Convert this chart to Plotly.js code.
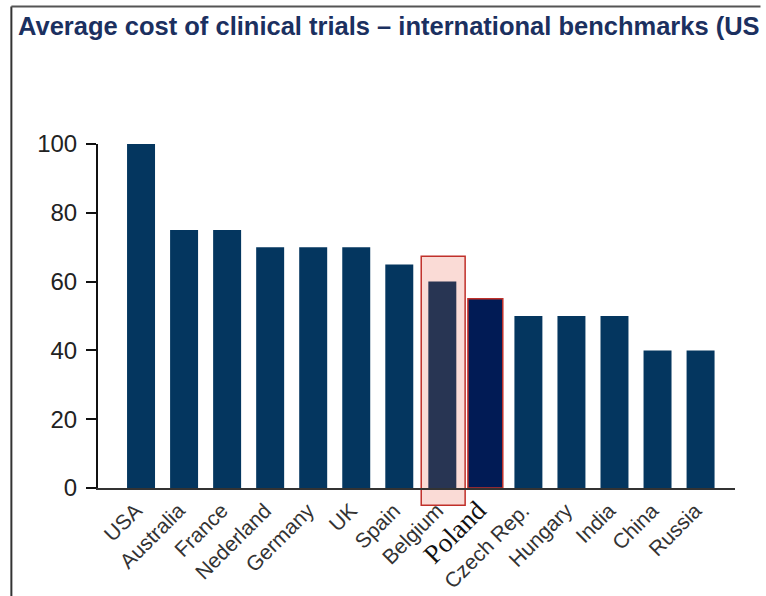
<!DOCTYPE html>
<html>
<head>
<meta charset="utf-8">
<script src="https://cdn.plot.ly/plotly-3.0.1.min.js"></script>
<style>html,body{margin:0;padding:0;background:#fff;}#chart{width:766px;height:596px;}</style>
</head>
<body>
<div id="chart"></div>
<script>
const countries = ["USA","Australia","France","Nederland","Germany","UK","Spain","Belgium","Poland","Czech Rep.","Hungary","India","China","Russia"];
const costIndex = [100,75,75,70,70,70,65,60,55,50,50,50,40,40];
const yTicks = [0,20,40,60,80,100];
const highlighted = "Poland";
const boxed = "Belgium";

const idx = countries.map((c,i)=>i);
const labelPos = idx.map(i => i - 0.12);
const colors = countries.map(c => c===highlighted ? "#011b55" : (c===boxed ? "#283553" : "#04365f"));
const widths = countries.map(c => c===highlighted ? 0.81 : 0.65);
const lineColors = countries.map(c => c===highlighted ? "#c0302a" : "rgba(0,0,0,0)");
const lineWidths = countries.map(c => c===highlighted ? 1.5 : 0);
const tickText = countries.map(c => c===highlighted
  ? '<span style="font-family:\'Liberation Serif\',\'Times New Roman\',serif;font-size:27px;fill:#111;">'+c+'</span>'
  : c);

const bi = countries.indexOf(boxed);
const bv = costIndex[bi];

const trace = {
  type: "bar",
  x: idx,
  y: costIndex,
  width: widths,
  marker: {color: colors, line: {color: lineColors, width: lineWidths}},
  hoverinfo: "x+y"
};

const layout = {
  width: 766, height: 596,
  margin: {l: 98, r: 31, t: 144, b: 108},
  paper_bgcolor: "#fff", plot_bgcolor: "#fff",
  showlegend: false,
  font: {family: "'Liberation Sans', Arial, sans-serif", color: "#333"},
  xaxis: {
    range: [-1, 13.8],
    tickmode: "array", tickvals: labelPos, ticktext: tickText,
    tickangle: -45, ticks: "", showgrid: false, zeroline: false,
    showline: true, linecolor: "#333", linewidth: 2,
    tickfont: {size: 21, color: "#333"},
    automargin: false,
    fixedrange: true
  },
  yaxis: {
    range: [0, 100], tickvals: yTicks,
    ticks: "outside", ticklen: 10, tickwidth: 2, tickcolor: "#111",
    showline: true, linecolor: "#111", linewidth: 2,
    showgrid: false, zeroline: false,
    tickfont: {size: 24, color: "#222"},
    ticklabelstandoff: 4,
    automargin: false,
    fixedrange: true
  },
  shapes: [
    {type: "rect", layer: "below", xref: "x", yref: "paper",
     x0: bi-0.49, x1: bi+0.53, y0: -0.05, y1: (bv+7.4)/100,
     fillcolor: "#fadbd6", line: {color: "#c0302a", width: 1.5}},
    {type: "line", xref: "paper", yref: "paper", x0: -0.136, x1: -0.136, y0: -0.32, y1: 1.4,
     line: {color: "#333", width: 2}},
    {type: "line", xref: "paper", yref: "paper", x0: -0.136, x1: 1.04, y0: 1.4, y1: 1.4,
     line: {color: "#555", width: 2}}
  ],
  annotations: [
    {text: "<b>Average cost of clinical trials – international benchmarks (US</b>",
     xref: "paper", yref: "paper", x: -0.128, y: 1.296, xanchor: "left", yanchor: "bottom",
     showarrow: false, font: {size: 25.5, color: "#1b3060", family: "'Liberation Sans', Arial, sans-serif"}}
  ]
};

Plotly.newPlot("chart", [trace], layout, {displayModeBar: false, staticPlot: true});
</script>
</body>
</html>
